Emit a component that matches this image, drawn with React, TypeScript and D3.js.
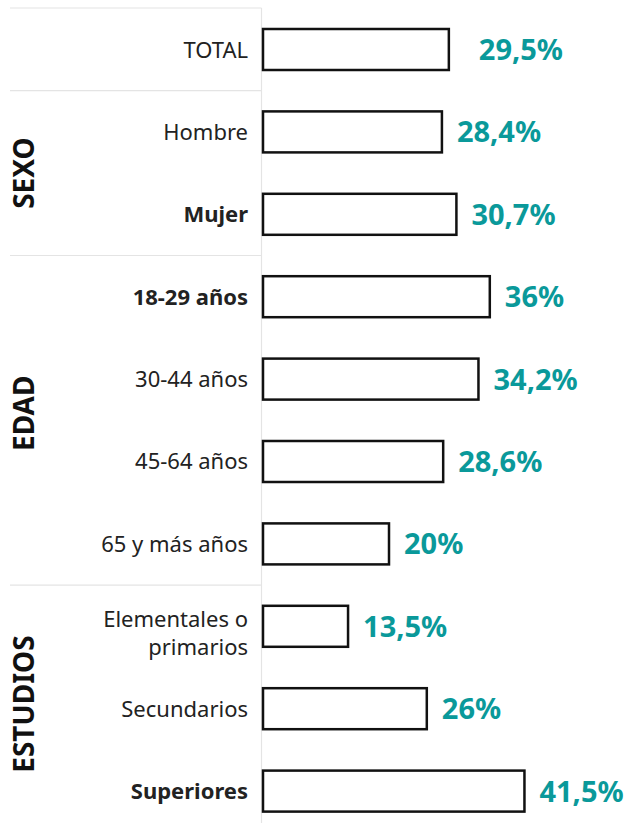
import React from "react";
import * as d3 from "d3";

// data
const categories = [
  "TOTAL",
  "Hombre",
  "Mujer",
  "18-29 años",
  "30-44 años",
  "45-64 años",
  "65 y más años",
  "Elementales o primarios",
  "Secundarios",
  "Superiores",
];
const values = [29.5, 28.4, 30.7, 36, 34.2, 28.6, 20, 13.5, 26, 41.5];
const valueLabels = ["29,5%", "28,4%", "30,7%", "36%", "34,2%", "28,6%", "20%", "13,5%", "26%", "41,5%"];
const boldCategories = ["Mujer", "18-29 años", "Superiores"];
const groups = [
  { name: "SEXO", items: ["Hombre", "Mujer"] },
  { name: "EDAD", items: ["18-29 años", "30-44 años", "45-64 años", "65 y más años"] },
  { name: "ESTUDIOS", items: ["Elementales o primarios", "Secundarios", "Superiores"] },
];
const labelLines: Record<string, string[]> = {
  "Elementales o primarios": ["Elementales o", "primarios"],
};

const W = 630;
const H = 823;
const FONT = "'Noto Sans', 'Open Sans', sans-serif";
const TEAL = "#0a999a";

const App = () => {
  const x0 = 263;
  const x = d3.scaleLinear().domain([0, 10]).range([x0, x0 + 63]);
  const y = d3.scaleBand<string>().domain(categories).range([29, 811.6]).paddingInner(0.5024).paddingOuter(0);
  const bw = y.bandwidth();
  const step = y.step();

  // separators sit half way between the last bar of one block and the first of the next
  const sepY = (cat: string) => (y(cat) as number) - (step - bw) / 2;
  const separators = [8, sepY("Hombre"), sepY("18-29 años"), sepY("Elementales o primarios")];
  const groupBounds = [
    [separators[1], separators[2]],
    [separators[2], separators[3] - 14],
    [separators[3], H],
  ];

  return (
    <svg width={W} height={H} style={{ position: "absolute", left: 0, top: 0, background: "#fff" }} fontFamily={FONT}>
      {separators.map((s, i) => (
        <line key={i} x1={10} x2={261.5} y1={s} y2={s} stroke="#e4e4e4" strokeWidth={1.2} />
      ))}
      <line x1={261.5} x2={261.5} y1={8} y2={H} stroke="#e4e4e4" strokeWidth={1.2} />

      {groups.map((g, i) => {
        const cy = (groupBounds[i][0] + groupBounds[i][1]) / 2;
        return (
          <text key={g.name} transform={`translate(33.5,${cy}) rotate(-90)`} textAnchor="middle"
            fontSize={28} fontWeight={700} fill="#111">
            {g.name}
          </text>
        );
      })}

      {categories.map((c, i) => {
        const top = y(c) as number;
        const cy = top + bw / 2;
        const lines = labelLines[c] || [c];
        const bold = boldCategories.includes(c);
        return (
          <g key={c}>
            <rect x={x0} y={top} width={x(values[i]) - x0} height={bw} fill="#fff" stroke="#111" strokeWidth={2.5} />
            {lines.map((l, k) => (
              <text key={k} x={248} y={lines.length === 1 ? cy + 8 : cy + 1 + k * 28} textAnchor="end"
                fontSize={22} fontWeight={bold ? 700 : 400} fill="#222">
                {l}
              </text>
            ))}
            <text x={x(values[i]) + (i === 0 ? 30 : 15)} y={cy + 10.5} fontSize={29} fontWeight={700} fill={TEAL}>
              {valueLabels[i]}
            </text>
          </g>
        );
      })}
    </svg>
  );
};

export default App;
